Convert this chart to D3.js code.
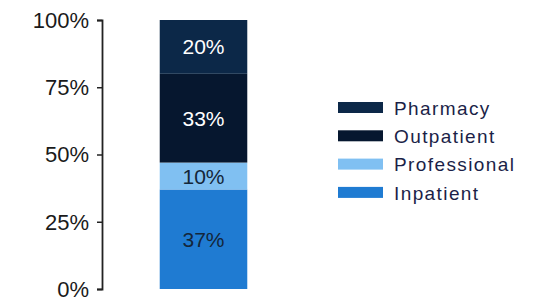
<!DOCTYPE html>
<html>
<head>
<meta charset="utf-8">
<script src="https://cdn.jsdelivr.net/npm/d3@7"></script>
<style>
  body { margin: 0; background: #fff; }
  svg { font-family: "Liberation Sans", Arial, sans-serif; }
</style>
</head>
<body>
<div id="chart"></div>
<script>
// segments from bottom to top
var categories = ["Inpatient", "Professional", "Outpatient", "Pharmacy"];
var shares = [37, 10, 33, 20];
var segColors = ["#1f7bd2", "#80c0f2", "#06172f", "#0c2848"];
var labelColors = ["#14263a", "#14263a", "#ffffff", "#ffffff"];
var tickValues = [0, 25, 50, 75, 100];

var svg = d3.select("#chart").append("svg")
    .attr("width", 539)
    .attr("height", 301);

var y = d3.scaleLinear().domain([0, 100]).range([289, 20]);
var x = d3.scaleBand().domain(["all"]).range([150, 257]).padding(0.1);

// stacked segments
var stackData = [];
var acc = 0;
for (var i = 0; i < categories.length; ++i) {
    stackData.push({ name: categories[i], v0: acc, v1: acc + shares[i], color: segColors[i], label: labelColors[i], value: shares[i] });
    acc += shares[i];
}

svg.selectAll(".seg")
    .data(stackData).enter()
    .append("rect")
        .attr("class", "seg")
        .attr("x", x("all"))
        .attr("width", x.bandwidth())
        .attr("y", function(d){ return y(d.v1); })
        .attr("height", function(d){ return y(d.v0) - y(d.v1); })
        .attr("fill", function(d){ return d.color; });

svg.selectAll(".seg-label")
    .data(stackData).enter()
    .append("text")
        .attr("class", "seg-label")
        .text(function(d){ return d.value + "%"; })
        .attr("x", x("all") + x.bandwidth() / 2)
        .attr("y", function(d){ return (y(d.v0) + y(d.v1)) / 2; })
        .attr("dy", "0.36em")
        .attr("text-anchor", "middle")
        .attr("fill", function(d){ return d.label; })
        .style("font-size", "21px");

// y axis
var yAxis = d3.axisLeft(y)
    .tickValues(tickValues)
    .tickFormat(function(d){ return d + "%"; })
    .tickSize(5)
    .tickSizeOuter(5);
var ax = svg.append("g")
    .attr("transform", "translate(102,0)")
    .call(yAxis);
ax.select(".domain").attr("stroke", "#222").attr("stroke-width", 1.8);
ax.selectAll(".tick line").attr("stroke", "#222").attr("stroke-width", 1.5);
ax.selectAll(".tick text")
    .attr("x", -13)
    .attr("dy", "0.34em")
    .attr("fill", "#1a1a1a")
    .style("font-size", "22px")
    .style("font-family", "Liberation Sans, Arial, sans-serif");

// legend, top to bottom
var legendItems = stackData.slice().reverse();
var legend = svg.append("g").attr("transform", "translate(338,102)");
legend.selectAll(".lg-box")
    .data(legendItems).enter()
    .append("rect")
        .attr("class", "lg-box")
        .attr("x", 0)
        .attr("y", function(d, i){ return i * 28.3; })
        .attr("width", 45)
        .attr("height", 11)
        .attr("fill", function(d){ return d.color; });
legend.selectAll(".lg-text")
    .data(legendItems).enter()
    .append("text")
        .attr("class", "lg-text")
        .text(function(d){ return d.name; })
        .attr("x", 56)
        .attr("y", function(d, i){ return i * 28.3 + 6; })
        .attr("dy", "0.36em")
        .attr("fill", "#1b1f48")
        .style("font-size", "19px")
        .style("letter-spacing", "1.4px");
</script>
</body>
</html>
